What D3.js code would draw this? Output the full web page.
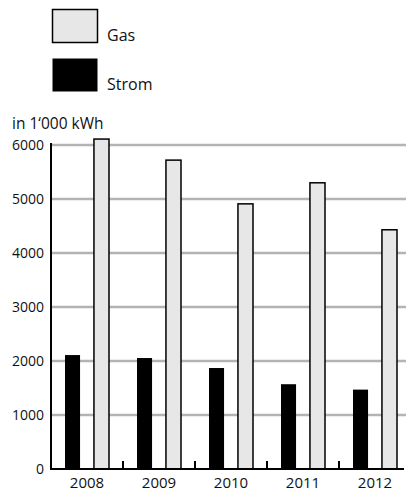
<!DOCTYPE html>
<html><head><meta charset="utf-8">
<script src="https://cdn.jsdelivr.net/npm/d3@7"></script>
<style>
html,body{margin:0;padding:0;background:#fff;}
svg{display:block;font-family:"Open Sans","DejaVu Sans",sans-serif;}
</style></head>
<body><svg id="c" width="406" height="492"></svg>
<script>
const years = ["2008","2009","2010","2011","2012"];
const series = ["Strom","Gas"];
const strom = [2110, 2055, 1870, 1570, 1470];
const gas = [6110, 5720, 4910, 5300, 4430];
const yTicks = [0,1000,2000,3000,4000,5000,6000];
const unitLabel = "in 1‘000 kWh";

const svg = d3.select("#c");
const x0 = d3.scaleBand().domain(years).range([51, 411]);
const x1 = d3.scaleBand().domain(series).range([14, 58]).paddingInner(0.48);
const y = d3.scaleLinear().domain([0, 6000]).range([469, 145]);
const colors = {Strom:"#000", Gas:"#e6e7e6"};

// gridlines
svg.append("g").selectAll("line").data(yTicks.filter(d=>d>0)).join("line")
  .attr("x1", 51).attr("x2", 406).attr("y1", d=>y(d)).attr("y2", d=>y(d))
  .attr("stroke", "#b3b3b3").attr("stroke-width", 2.5);

// y labels
svg.append("g").selectAll("text").data(yTicks).join("text")
  .attr("x", 44).attr("y", d=>y(d)+5).attr("text-anchor","end")
  .attr("font-size", 14).attr("fill","#111").text(d=>d);

svg.append("text").attr("x", 12).attr("y", 129).attr("font-size", 15.5)
  .attr("fill","#111").text(unitLabel);

// bars
const data = years.map((yr,i)=>({year:yr, Strom:strom[i], Gas:gas[i]}));
const g = svg.append("g");
data.forEach(d=>{
  series.forEach(s=>{
    g.append("rect")
      .attr("x", x0(d.year)+x1(s)).attr("width", x1.bandwidth())
      .attr("y", y(d[s])).attr("height", y(0)-y(d[s]))
      .attr("fill", colors[s])
      .attr("stroke", "#000").attr("stroke-width", s==="Gas"?1.5:0);
  });
});

// y axis line
svg.append("line").attr("x1",51).attr("x2",51).attr("y1",y(6000)-2).attr("y2",y(0)+1)
  .attr("stroke","#000").attr("stroke-width",2);
// baseline
svg.append("line").attr("x1",50).attr("x2",404).attr("y1",y(0)).attr("y2",y(0))
  .attr("stroke","#000").attr("stroke-width",2);
// category ticks
svg.append("g").selectAll("line").data(years.slice(1)).join("line")
  .attr("x1", d=>x0(d)).attr("x2", d=>x0(d)).attr("y1", y(0)).attr("y2", y(0)-8)
  .attr("stroke","#000").attr("stroke-width",2);
// x labels
svg.append("g").selectAll("text").data(years).join("text")
  .attr("x", d=>x0(d)+x0.bandwidth()/2).attr("y", 488).attr("text-anchor","middle")
  .attr("font-size", 15).attr("fill","#111").text(d=>d);

// legend
const legend = [{name:"Gas", y:9}, {name:"Strom", y:58}];
legend.forEach(l=>{
  svg.append("rect").attr("x",52.5).attr("y",l.y+0.5).attr("width",45).attr("height",33)
    .attr("fill", colors[l.name]).attr("stroke","#000").attr("stroke-width", l.name==="Gas"?1.5:0);
  svg.append("text").attr("x",107).attr("y",l.y+32).attr("font-size",16)
    .attr("fill","#111").text(l.name);
});
</script></body></html>
